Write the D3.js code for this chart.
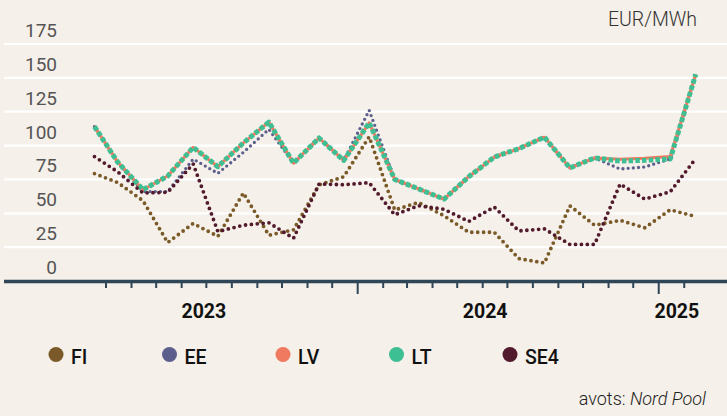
<!DOCTYPE html>
<html>
<head>
<meta charset="utf-8">
<script src="https://cdn.jsdelivr.net/npm/d3@7"></script>
<style>
  html, body { margin: 0; padding: 0; background: #f5f0e9; }
  svg { display: block; }
  text { font-family: Roboto, "Noto Sans", sans-serif; }
</style>
</head>
<body>
<div id="chart"></div>
<script>
// ---------- DATA ----------
const months = ["2023-02","2023-03","2023-04","2023-05","2023-06","2023-07","2023-08","2023-09","2023-10","2023-11","2023-12",
                "2024-01","2024-02","2024-03","2024-04","2024-05","2024-06","2024-07","2024-08","2024-09","2024-10","2024-11","2024-12",
                "2025-01","2025-02"];
const seriesNames = ["FI","EE","LV","LT","SE4"];
const FI  = [79.3, 72.8, 59.3, 28.4, 42.5, 33.0, 65.0, 33.8, 37.8, 71.0, 77.0, 106.5, 52.5, 58.0, 48.2, 36.0, 36.0, 16.5, 13.3, 55.5, 41.2, 44.8, 39.3, 52.6, 47.6];
const EE  = [114.0, 88.0, 66.0, 66.0, 90.0, 79.5, 95.0, 112.0, 87.0, 105.6, 89.0, 126.0, 75.0, 68.0, 60.5, 77.0, 91.5, 97.8, 106.2, 83.5, 90.9, 82.7, 84.2, 90.1, 152.6];
const LV  = [114.0, 88.0, 67.4, 77.5, 98.7, 84.4, 102.0, 117.3, 87.0, 105.6, 89.0, 116.8, 75.0, 68.0, 60.5, 77.0, 91.5, 97.8, 106.2, 83.5, 90.9, 89.9, 90.6, 91.9, 152.6];
const LT  = [114.0, 88.0, 67.4, 77.5, 98.7, 84.4, 102.0, 117.3, 87.0, 105.6, 89.0, 116.8, 75.0, 68.0, 60.5, 77.0, 91.5, 97.8, 106.2, 83.5, 90.9, 88.6, 89.1, 90.1, 152.6];
const SE4 = [91.9, 80.7, 65.0, 65.5, 86.5, 36.5, 41.2, 43.0, 31.6, 71.6, 71.1, 72.6, 48.9, 55.6, 53.0, 44.0, 54.6, 37.0, 38.5, 27.0, 27.0, 71.6, 60.5, 65.9, 90.4];
const yTicks = [0, 25, 50, 75, 100, 125, 150, 175];
const yearLabels = ["2023", "2024", "2025"];
const yearLabelDates = ["2023-06-28", "2024-06-04", "2025-01-23"];
const unitLabel = "EUR/MWh";
const sourcePrefix = "avots: ";
const sourceName = "Nord Pool";

// ---------- STYLE ----------
const colors = { FI: "#7a5a28", EE: "#5c5e8c", LV: "#f07a5f", LT: "#3dbf93", SE4: "#521a2d" };
const W = 727, H = 416;
const plot = { left: 4, right: 727, top: 44, bottom: 281 };

const svg = d3.select("#chart").append("svg").attr("width", W).attr("height", H);
svg.append("rect").attr("width", W).attr("height", H).attr("fill", "#f5f0e9");

const parseM = d3.timeParse("%Y-%m");
const parseD = d3.timeParse("%Y-%m-%d");
const dates = months.map(m => { const d = parseM(m); return new Date(d.getFullYear(), d.getMonth(), 15); });

const x = d3.scaleTime()
  .domain([new Date(2022, 9, 28), new Date(2025, 2, 25)])
  .range([plot.left, plot.right]);
const y = d3.scaleLinear().domain([0, 175]).range([plot.bottom, plot.top]);

// gridlines
svg.append("g").selectAll("line")
  .data(yTicks.filter(v => v > 0))
  .join("line")
  .attr("x1", plot.left).attr("x2", plot.right)
  .attr("y1", d => y(d)).attr("y2", d => y(d))
  .attr("stroke", "#ffffff").attr("stroke-width", 2.2);

// y labels (above gridlines)
svg.append("g").selectAll("text")
  .data(yTicks)
  .join("text")
  .attr("x", 57).attr("y", d => y(d) - 7)
  .attr("text-anchor", "end")
  .attr("font-size", 19).attr("fill", "#555")
  .text(d => d);

// unit
svg.append("text").attr("x", 697).attr("y", 26)
  .attr("text-anchor", "end").attr("font-size", 19.5).attr("font-weight", 300)
  .attr("fill", "#333").text(unitLabel);

// x axis
const monthTicks = d3.timeMonth.range(d3.timeMonth.ceil(dates[0]), dates[dates.length - 1]);
const xAxisG = svg.append("g");
xAxisG.selectAll("line.tick")
  .data(monthTicks)
  .join("line")
  .attr("class", "tick")
  .attr("x1", d => x(d)).attr("x2", d => x(d))
  .attr("y1", plot.bottom).attr("y2", d => d.getMonth() === 0 ? plot.bottom + 13 : plot.bottom + 7)
  .attr("stroke", "#2f4558").attr("stroke-width", 2);
xAxisG.append("line")
  .attr("x1", plot.left).attr("x2", plot.right)
  .attr("y1", plot.bottom + 0.5).attr("y2", plot.bottom + 0.5)
  .attr("stroke", "#2f4558").attr("stroke-width", 3.3);
xAxisG.selectAll("text")
  .data(yearLabels)
  .join("text")
  .attr("x", (d, i) => x(parseD(yearLabelDates[i])))
  .attr("y", 317.5)
  .attr("text-anchor", "middle")
  .attr("font-size", 19.5).attr("font-weight", 700).attr("fill", "#111")
  .text(d => d);

// lines
const seriesData = { FI, EE, LV, LT, SE4 };
const styles = {
  FI:  { w: 3.8, dash: "0,5.9", cap: "round" },
  EE:  { w: 3.3, dash: "0,5.2", cap: "round" },
  LV:  { w: 3.0, dash: null,    cap: "butt" },
  LT:  { w: 5.0, dash: "4.5,2.2", cap: "butt" },
  SE4: { w: 3.8, dash: "0,5.9", cap: "round" }
};
const line = d3.line().x((d, i) => x(dates[i])).y(d => y(d));
const linesG = svg.append("g");
seriesNames.forEach(name => {
  const st = styles[name];
  linesG.append("path")
    .datum(seriesData[name])
    .attr("d", line)
    .attr("fill", "none")
    .attr("stroke", colors[name])
    .attr("stroke-width", st.w)
    .attr("stroke-linecap", st.cap)
    .attr("stroke-linejoin", "round")
    .attr("stroke-dasharray", st.dash);
});

// legend
const legend = svg.append("g");
seriesNames.forEach((name, i) => {
  const cx = 56 + i * 113.5;
  legend.append("circle").attr("cx", cx).attr("cy", 354.5).attr("r", 7.5).attr("fill", colors[name]);
  legend.append("text").attr("x", cx + 15).attr("y", 364)
    .attr("font-size", 19.5).attr("font-weight", 500).attr("fill", "#111").text(name);
});

// source
const src = svg.append("text").attr("x", 706).attr("y", 404.5)
  .attr("text-anchor", "end").attr("font-size", 18).attr("font-weight", 300).attr("fill", "#222");
src.append("tspan").text(sourcePrefix);
src.append("tspan").attr("font-style", "italic").text(sourceName);
</script>
</body>
</html>
